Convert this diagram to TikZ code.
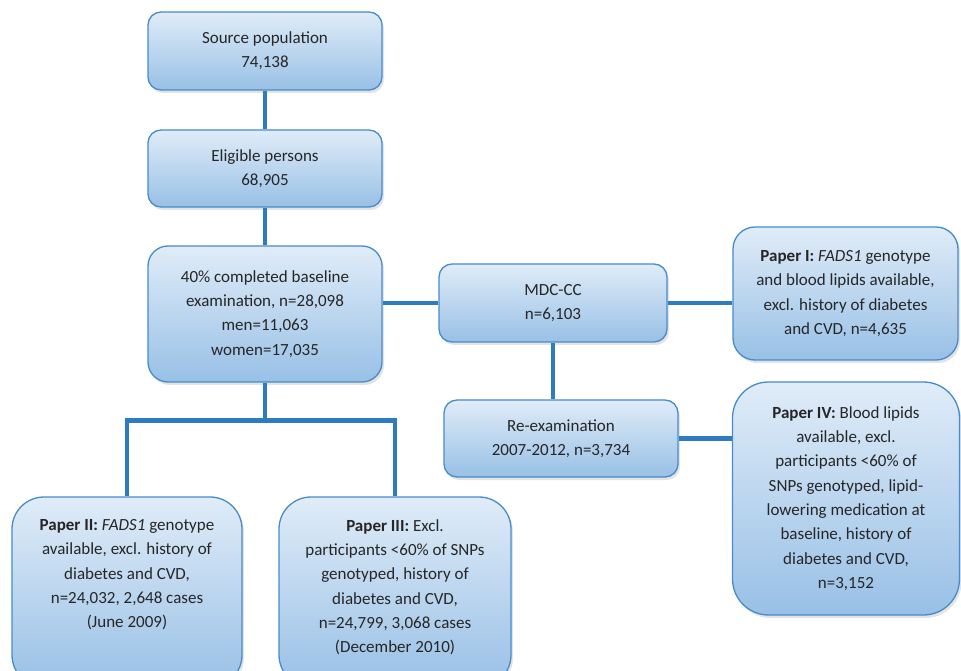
\documentclass[tikz,border=0pt]{standalone}
\usepackage{fontspec}
\setmainfont{Carlito}
\usepackage{xcolor}
\usetikzlibrary{positioning,shadows,calc}

\definecolor{linkblue}{RGB}{46,124,192}
\definecolor{boxedge}{RGB}{70,140,202}
\definecolor{boxtop}{RGB}{224,236,248}
\definecolor{boxbot}{RGB}{152,192,230}

\begin{document}
\begin{tikzpicture}[x=1pt, y=1pt, font=\fontsize{17}{24.3}\selectfont,
    stage/.style={draw=boxedge, line width=1.3pt, top color=boxtop, bottom color=boxbot,
        align=center, inner sep=0pt, text=black!85,
        drop shadow={opacity=0.22, shadow xshift=2pt, shadow yshift=-3pt}},
    link/.style={draw=linkblue, line width=4.5pt}]
% Page frame
\useasboundingbox (0,0) rectangle (961,670);

% Main column
\node[stage, minimum width=234pt, minimum height=78pt, rounded corners=13pt] (src) at (265,619)
    {Source population\\74,138};
\node[stage, minimum width=234pt, minimum height=77pt, rounded corners=13pt] (elig) at (265,501.5)
    {Eligible persons\\68,905};
\node[stage, minimum width=234pt, minimum height=136pt, rounded corners=20pt] (base) at (265,356)
    {40\% completed baseline\\examination, n=28,098\\men=11,063\\women=17,035};

% MDC-CC branch
\node[stage, minimum width=228pt, minimum height=78pt, rounded corners=13pt] (mdc) at (553,367)
    {MDC-CC\\n=6,103};
\node[stage, minimum width=234pt, minimum height=77pt, rounded corners=13pt] (reex) at (561,231.5)
    {Re-examination\\2007-2012, n=3,734};
\node[stage, minimum width=225pt, minimum height=133pt, rounded corners=22pt] (paperI) at (845.5,376.5)
    {\textbf{Paper I:} \textit{FADS1} genotype\\and blood lipids available,\\excl. history of diabetes\\and CVD, n=4,635};
\node[stage, minimum width=227pt, minimum height=233pt, rounded corners=36pt] (paperIV) at (846,171.5)
    {\textbf{Paper IV:} Blood lipids\\available, excl.\\participants <60\% of\\SNPs genotyped, lipid-\\lowering medication at\\baseline, history of\\diabetes and CVD,\\n=3,152};

% Bottom papers (text at the top, boxes run off the page)
\node[stage, minimum width=230pt, minimum height=190pt, rounded corners=32pt] (paperII) at (127,78)
    {\parbox[c][145pt][t]{220pt}{\centering
    \textbf{Paper II:} \textit{FADS1} genotype\\available, excl. history of\\diabetes and CVD,\\n=24,032, 2,648 cases\\(June 2009)}};
\node[stage, minimum width=232pt, minimum height=190pt, rounded corners=32pt] (paperIII) at (395,78)
    {\parbox[c][145pt][t]{222pt}{\centering
    \textbf{Paper III:} Excl.\\participants <60\% of SNPs\\genotyped, history of\\diabetes and CVD,\\n=24,799, 3,068 cases\\(December 2010)}};

% Connectors
\draw[link] (src) -- (elig);
\draw[link] (elig) -- (base);
\draw[link] (mdc.west) -- (mdc.west -| base.east);
\draw[link] (mdc.east) -- (mdc.east -| paperI.west);
\draw[link] (mdc.south) -- (mdc.south |- reex.north);
\draw[link] (reex.east) -- (reex.east -| paperIV.west);
\coordinate (split) at ($(base.south)+(0,-38)$);
\draw[link] (base.south) -- (split);
\draw[link] (paperII.north) |- (split) -| (paperIII.north);
\end{tikzpicture}
\end{document}
